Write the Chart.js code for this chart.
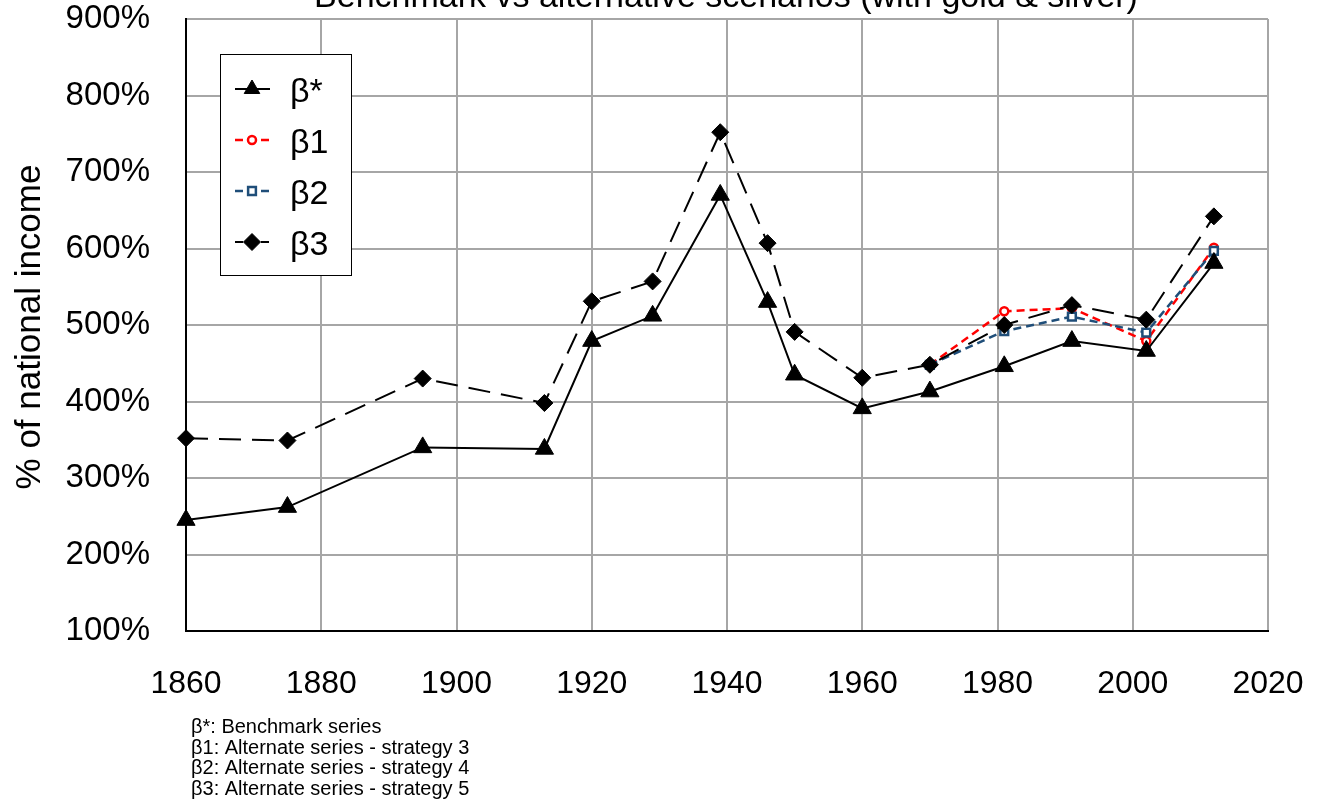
<!DOCTYPE html>
<html>
<head>
<meta charset="utf-8">
<title>Benchmark vs alternative scenarios</title>
<script src="https://cdn.jsdelivr.net/npm/chart.js"></script>
<style>
  html, body { margin: 0; padding: 0; background: #fff; }
  canvas { display: block; }
</style>
</head>
<body>
<canvas id="chart" width="1323" height="802"></canvas>
<script>
// values
const years = [1860, 1875, 1895, 1913, 1920, 1929, 1939, 1946, 1950, 1960, 1970, 1981, 1991, 2002, 2012];
const betaStar = [245, 262, 340, 338, 479, 512, 670, 530, 435, 391, 413, 446, 479, 466, 581];
const beta1 = [null, null, null, null, null, null, null, null, null, null, 448, 518, 522, 479, 601];
const beta2 = [null, null, null, null, null, null, null, null, null, null, 448, 492, 511, 490, 597];
const beta3 = [352, 349, 430, 398, 531, 557, 752, 607, 491, 431, 448, 500, 526, 507, 642];

const seriesNames = ["β*", "β1", "β2", "β3"];
const chartTitle = "Benchmark vs alternative scenarios (with gold & silver)";
const yTitle = "% of national income";
const notes = [
    "β*: Benchmark series",
    "β1: Alternate series - strategy 3",
    "β2: Alternate series - strategy 4",
    "β3: Alternate series - strategy 5"
];

const FONT = "'Liberation Sans', Arial, Helvetica, sans-serif";
Chart.defaults.font.family = FONT;
Chart.defaults.color = "#000";

const toPoints = vals => years.map((x, i) => ({ x: x, y: vals[i] }));

const datasets = [
    {
        label: seriesNames[0],
        data: toPoints(betaStar),
        borderColor: "#000",
        borderWidth: 2,
        pointStyle: "triangle",
        pointRadius: 10.5,
        pointBackgroundColor: "#000",
        pointBorderColor: "#000",
        pointBorderWidth: 1,
        order: 1
    },
    {
        label: seriesNames[1],
        data: toPoints(beta1),
        borderColor: "#ff0000",
        borderWidth: 2.5,
        borderDash: [8, 5],
        pointStyle: "circle",
        pointRadius: 4,
        pointBackgroundColor: "#fff",
        pointBorderColor: "#ff0000",
        pointBorderWidth: 2.5,
        order: 3
    },
    {
        label: seriesNames[2],
        data: toPoints(beta2),
        borderColor: "#1f4e79",
        borderWidth: 2.5,
        borderDash: [8, 5],
        pointStyle: "rect",
        pointRadius: 5.5,
        pointBackgroundColor: "#fff",
        pointBorderColor: "#1f4e79",
        pointBorderWidth: 2.5,
        order: 2
    },
    {
        label: seriesNames[3],
        data: toPoints(beta3),
        borderColor: "#000",
        borderWidth: 2,
        borderDash: [22, 11],
        pointStyle: "rectRot",
        pointRadius: 8.5,
        pointBackgroundColor: "#000",
        pointBorderColor: "#000",
        pointBorderWidth: 1,
        order: 0
    }
];
datasets.forEach(d => { d.clip = false; d.tension = 0; d.fill = false; });

// title, axis title, legend box and notes drawn by hand
const extras = {
    id: "extras",
    afterDraw(chart) {
        const ctx = chart.ctx;
        ctx.save();
        ctx.fillStyle = "#000";

        ctx.font = "34px " + FONT;
        ctx.textAlign = "center";
        ctx.textBaseline = "alphabetic";
        ctx.fillText(chartTitle, 726, 7);

        ctx.save();
        ctx.translate(40, 327);
        ctx.rotate(-Math.PI / 2);
        ctx.font = "35px " + FONT;
        ctx.fillText(yTitle, 0, 0);
        ctx.restore();

        // legend
        ctx.fillStyle = "#fff";
        ctx.fillRect(220, 54, 132, 222);
        ctx.strokeStyle = "#000";
        ctx.lineWidth = 1;
        ctx.strokeRect(220.5, 54.5, 131, 221);

        const rowY = [89, 140, 191, 242];
        datasets.forEach((d, i) => {
            const y = rowY[i];
            ctx.save();
            ctx.strokeStyle = d.borderColor;
            ctx.lineWidth = d.borderWidth;
            ctx.setLineDash(d.borderDash ? [8, 5] : []);
            ctx.beginPath();
            ctx.moveTo(235, y);
            ctx.lineTo(270, y);
            ctx.stroke();
            ctx.setLineDash([]);
            ctx.fillStyle = d.pointBackgroundColor;
            ctx.strokeStyle = d.pointBorderColor;
            ctx.lineWidth = d.pointBorderWidth;
            Chart.helpers.drawPoint(ctx, {
                pointStyle: d.pointStyle,
                radius: Math.min(d.pointRadius, 9),
                rotation: 0,
                borderWidth: d.pointBorderWidth
            }, 252, y);
            ctx.restore();

            ctx.fillStyle = "#000";
            ctx.font = "34px " + FONT;
            ctx.textAlign = "left";
            ctx.textBaseline = "alphabetic";
            ctx.fillText(d.label, 290, y + 12.5);
        });

        ctx.font = "20px " + FONT;
        ctx.textAlign = "left";
        notes.forEach((t, i) => ctx.fillText(t, 191, 733 + i * 20.5));
        ctx.restore();
    }
};

new Chart(document.getElementById("chart").getContext("2d"), {
    type: "line",
    data: { datasets: datasets },
    options: {
        responsive: false,
        animation: false,
        layout: { padding: { top: 19, right: 55, bottom: 0, left: 0 } },
        plugins: {
            legend: { display: false },
            tooltip: { enabled: false }
        },
        scales: {
            x: {
                type: "linear",
                min: 1860,
                max: 2020,
                afterFit: s => {
                    s.height = 171;
                    s.paddingLeft = 0;
                    s.paddingRight = 0;
                },
                ticks: {
                    stepSize: 20,
                    padding: 34,
                    autoSkip: false,
                    maxRotation: 0,
                    font: { size: 32 },
                    callback: v => String(v)
                },
                grid: { color: "#a6a6a6", lineWidth: 2, drawTicks: false },
                border: { color: "#000", width: 2 }
            },
            y: {
                min: 100,
                max: 900,
                afterFit: s => {
                    s.width = 186;
                    s.paddingTop = 0;
                    s.paddingBottom = 0;
                },
                ticks: {
                    stepSize: 100,
                    padding: 36,
                    font: { size: 33 },
                    callback: v => v + "%"
                },
                grid: { color: "#a6a6a6", lineWidth: 2, drawTicks: false },
                border: { color: "#000", width: 2 }
            }
        }
    },
    plugins: [extras]
});
</script>
</body>
</html>
